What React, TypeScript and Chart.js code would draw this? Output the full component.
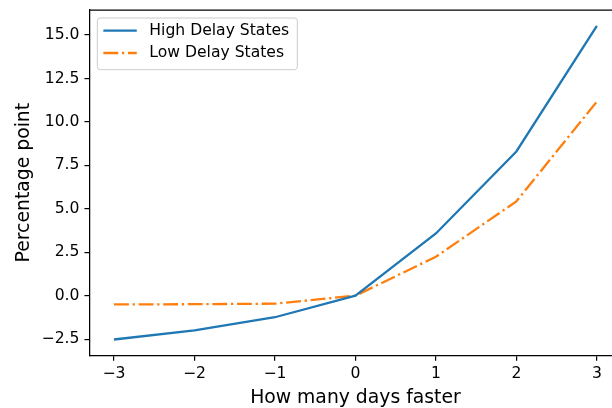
import React, { useEffect, useRef } from "react";
import { Chart, registerables } from "chart.js";

Chart.register(...registerables);

const daysFaster = [-3, -2, -1, 0, 1, 2, 3];
const highDelayStates = [-2.52, -2.0, -1.24, 0.0, 3.58, 8.3, 15.52];
const lowDelayStates = [-0.5, -0.49, -0.46, 0.0, 2.24, 5.43, 11.17];
const xTickValues = [-3, -2, -1, 0, 1, 2, 3];
const yTickValues = [-2.5, 0, 2.5, 5, 7.5, 10, 12.5, 15];
const seriesLabels = ["High Delay States", "Low Delay States"];
const xTitle = "How many days faster";
const yTitle = "Percentage point";

const FONT = "'DejaVu Sans', sans-serif";
const MINUS = "\u2212";
const TICK_SIZE = 15.6;
const LABEL_SIZE = 18.8;

const fmtX = (v: number) => (v < 0 ? MINUS + Math.abs(v) : String(v));
const fmtY = (v: number) => (v < 0 ? MINUS + Math.abs(v).toFixed(1) : v.toFixed(1));

const framePlugin = {
  id: "frame",
  afterDraw(chart: any) {
    const { ctx, chartArea: a } = chart;
    ctx.save();
    ctx.strokeStyle = "#000";
    ctx.lineWidth = 1.25;
    ctx.beginPath();
    ctx.moveTo(a.left, a.top);
    ctx.lineTo(a.right, a.top);
    ctx.stroke();
    ctx.restore();
  },
};

const legendPlugin = {
  id: "mplLegend",
  afterDraw(chart: any) {
    const { ctx, chartArea: a } = chart;
    const x0 = a.left + 7.5;
    const y0 = a.top + 8;
    const w = 200;
    const h = 51.7;
    const r = 3;
    ctx.save();
    ctx.beginPath();
    ctx.moveTo(x0 + r, y0);
    ctx.lineTo(x0 + w - r, y0);
    ctx.arcTo(x0 + w, y0, x0 + w, y0 + r, r);
    ctx.lineTo(x0 + w, y0 + h - r);
    ctx.arcTo(x0 + w, y0 + h, x0 + w - r, y0 + h, r);
    ctx.lineTo(x0 + r, y0 + h);
    ctx.arcTo(x0, y0 + h, x0, y0 + h - r, r);
    ctx.lineTo(x0, y0 + r);
    ctx.arcTo(x0, y0, x0 + r, y0, r);
    ctx.closePath();
    ctx.fillStyle = "rgba(255,255,255,0.8)";
    ctx.fill();
    ctx.strokeStyle = "#cccccc";
    ctx.lineWidth = 1;
    ctx.stroke();
    const rows = [y0 + 12.7, y0 + 35];
    chart.data.datasets.forEach((ds: any, i: number) => {
      const y = rows[i];
      ctx.beginPath();
      ctx.setLineDash(ds.borderDash || []);
      ctx.strokeStyle = ds.borderColor;
      ctx.lineWidth = ds.borderWidth;
      ctx.moveTo(x0 + 6, y);
      ctx.lineTo(x0 + 39.4, y);
      ctx.stroke();
      ctx.setLineDash([]);
      ctx.fillStyle = "#000";
      ctx.font = `${TICK_SIZE}px ${FONT}`;
      ctx.textBaseline = "middle";
      ctx.textAlign = "left";
      ctx.fillText(ds.label, x0 + 52, y);
    });
    ctx.restore();
  },
};

export default function App() {
  const ref = useRef<HTMLCanvasElement | null>(null);

  useEffect(() => {
    if (!ref.current) return;
    const chart = new Chart(ref.current, {
      type: "line",
      data: {
        datasets: [
          {
            label: seriesLabels[0],
            data: daysFaster.map((x, i) => ({ x, y: highDelayStates[i] })),
            borderColor: "#1f77b4",
            backgroundColor: "#1f77b4",
            borderWidth: 2.3,
            pointRadius: 0,
            tension: 0,
            fill: false,
          },
          {
            label: seriesLabels[1],
            data: daysFaster.map((x, i) => ({ x, y: lowDelayStates[i] })),
            borderColor: "#ff7f0e",
            backgroundColor: "#ff7f0e",
            borderWidth: 2.3,
            borderDash: [14.9, 3.7, 2.3, 3.7],
            pointRadius: 0,
            tension: 0,
            fill: false,
          },
        ],
      },
      options: {
        animation: false,
        responsive: false,
        devicePixelRatio: 1,
        layout: { padding: { left: 0, right: 19, top: 10, bottom: 0 } },
        plugins: { legend: { display: false }, tooltip: { enabled: false } },
        scales: {
          x: {
            type: "linear",
            min: -3.3,
            max: 3.3,
            afterBuildTicks: (scale: any) => {
              scale.ticks = xTickValues.map((v) => ({ value: v }));
            },
            afterFit: (scale: any) => {
              scale.height = 52.7;
              scale.paddingLeft = 0;
              scale.paddingRight = 0;
            },
            ticks: {
              callback: (v: any) => fmtX(Number(v)),
              color: "#000",
              font: { family: FONT, size: TICK_SIZE },
              padding: 4,
              maxRotation: 0,
              autoSkip: false,
            },
            grid: {
              drawOnChartArea: false,
              drawTicks: true,
              tickLength: 5.4,
              color: "#000",
              lineWidth: 1.2,
            },
            border: { display: true, color: "#000", width: 1.25 },
            title: {
              display: true,
              text: xTitle,
              color: "#000",
              font: { family: FONT, size: LABEL_SIZE, lineHeight: 1 },
              padding: { top: 0, bottom: 0.4 },
            },
          },
          y: {
            type: "linear",
            min: -3.43,
            max: 16.44,
            afterBuildTicks: (scale: any) => {
              scale.ticks = yTickValues.map((v) => ({ value: v }));
            },
            afterFit: (scale: any) => {
              scale.width = 89.85;
              scale.paddingTop = 0;
              scale.paddingBottom = 0;
            },
            ticks: {
              callback: (v: any) => fmtY(Number(v)),
              color: "#000",
              font: { family: FONT, size: TICK_SIZE },
              padding: 5,
              autoSkip: false,
            },
            grid: {
              drawOnChartArea: false,
              drawTicks: true,
              tickLength: 5.4,
              color: "#000",
              lineWidth: 1.2,
            },
            border: { display: true, color: "#000", width: 1.25 },
            title: {
              display: true,
              text: yTitle,
              color: "#000",
              font: { family: FONT, size: LABEL_SIZE, lineHeight: 1 },
              padding: { top: 14.4, bottom: 0 },
            },
          },
        },
      },
      plugins: [framePlugin, legendPlugin],
    } as any);
    return () => chart.destroy();
  }, []);

  return (
    <div
      style={{
        position: "fixed",
        left: 0,
        top: 0,
        width: 612,
        height: 408,
        overflow: "hidden",
        background: "#fff",
      }}
    >
      <canvas ref={ref} width={640} height={408} style={{ display: "block", width: 640, height: 408 }} />
    </div>
  );
}
